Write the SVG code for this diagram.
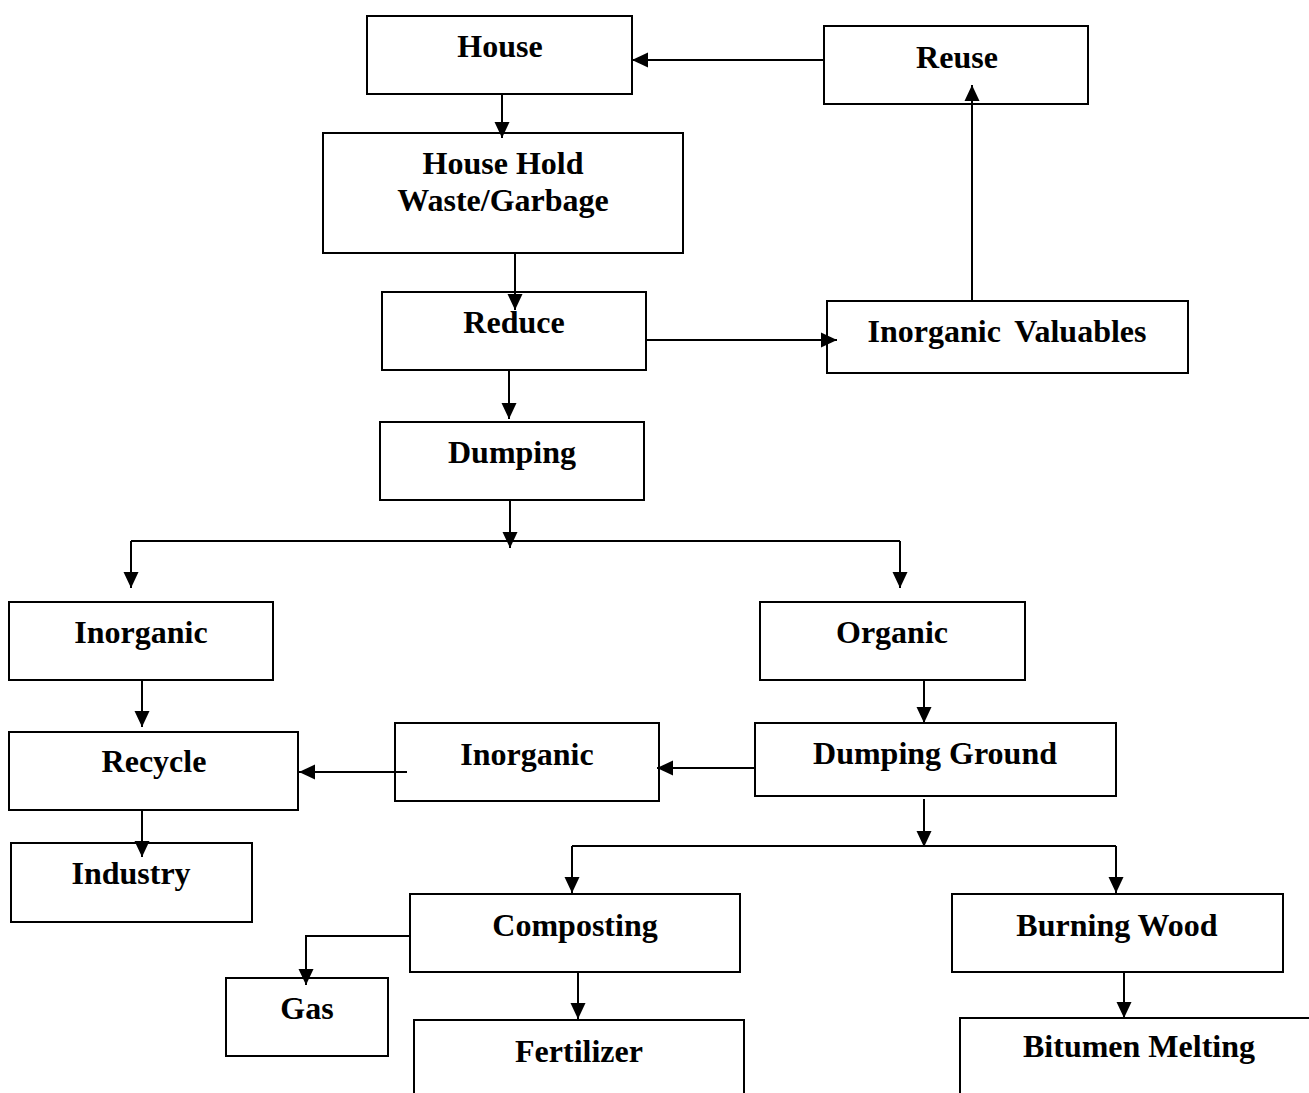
<svg xmlns="http://www.w3.org/2000/svg" width="1309" height="1093" viewBox="0 0 1309 1093">
<style>
.box{fill:#fff;stroke:#000;stroke-width:2}
.lbl{font-family:"Liberation Serif","Times New Roman",serif;font-weight:bold;font-size:32px;text-anchor:middle;fill:#000}
.c{fill:none;stroke:#000;stroke-width:2}
</style>
<defs>
<marker id="ah" markerUnits="userSpaceOnUse" markerWidth="18" markerHeight="18" refX="16" refY="7.5" orient="auto" overflow="visible">
<path d="M0,0 L16,7.5 L0,15 z" fill="#000"/>
</marker>
</defs>
<rect width="1309" height="1093" fill="#fff"/>
<g id="nodes">
<g id="house"><rect class="box" x="367" y="16" width="265" height="78"/><text class="lbl" x="500" y="57">House</text></g>
<g id="reuse"><rect class="box" x="824" y="26" width="264" height="78"/><text class="lbl" x="957" y="68">Reuse</text></g>
<g id="hhw"><rect class="box" x="323" y="133" width="360" height="120"/><text class="lbl" x="503" y="174">House Hold</text><text class="lbl" x="503" y="211">Waste/Garbage</text></g>
<g id="reduce"><rect class="box" x="382" y="292" width="264" height="78"/><text class="lbl" x="514" y="333">Reduce</text></g>
<g id="valuables"><rect class="box" x="827" y="301" width="361" height="72"/><text class="lbl" x="1007" y="342" word-spacing="6">Inorganic Valuables</text></g>
<g id="dumping"><rect class="box" x="380" y="422" width="264" height="78"/><text class="lbl" x="512" y="463">Dumping</text></g>
<g id="inorganic1"><rect class="box" x="9" y="602" width="264" height="78"/><text class="lbl" x="141" y="643">Inorganic</text></g>
<g id="organic"><rect class="box" x="760" y="602" width="265" height="78"/><text class="lbl" x="892" y="643">Organic</text></g>
<g id="recycle"><rect class="box" x="9" y="732" width="289" height="78"/><text class="lbl" x="154" y="772">Recycle</text></g>
<g id="inorganic2"><rect class="box" x="395" y="723" width="264" height="78"/><text class="lbl" x="527" y="765">Inorganic</text></g>
<g id="dumpingground"><rect class="box" x="755" y="723" width="361" height="73"/><text class="lbl" x="935" y="764">Dumping Ground</text></g>
<g id="industry"><rect class="box" x="11" y="843" width="241" height="79"/><text class="lbl" x="131" y="884">Industry</text></g>
<g id="composting"><rect class="box" x="410" y="894" width="330" height="78"/><text class="lbl" x="575" y="936">Composting</text></g>
<g id="burningwood"><rect class="box" x="952" y="894" width="331" height="78"/><text class="lbl" x="1117" y="936">Burning Wood</text></g>
<g id="gas"><rect class="box" x="226" y="978" width="162" height="78"/><text class="lbl" x="307" y="1019">Gas</text></g>
<g id="fertilizer"><rect class="box" x="414" y="1020" width="330" height="120"/><text class="lbl" x="579" y="1062">Fertilizer</text></g>
<g id="bitumen"><rect class="box" x="960" y="1018" width="400" height="120"/><text class="lbl" x="1139" y="1057">Bitumen Melting</text></g>
</g>
<g id="connectors">
<line class="c" x1="824" y1="60" x2="632" y2="60" marker-end="url(#ah)"/>
<line class="c" x1="502" y1="94" x2="502" y2="138" marker-end="url(#ah)"/>
<line class="c" x1="515" y1="253" x2="515" y2="310" marker-end="url(#ah)"/>
<line class="c" x1="647" y1="340" x2="837" y2="340" marker-end="url(#ah)"/>
<line class="c" x1="972" y1="301" x2="972" y2="85" marker-end="url(#ah)"/>
<line class="c" x1="509" y1="370" x2="509" y2="419" marker-end="url(#ah)"/>
<line class="c" x1="510" y1="500" x2="510" y2="548" marker-end="url(#ah)"/>
<line class="c" x1="131" y1="541" x2="900" y2="541"/>
<line class="c" x1="131" y1="541" x2="131" y2="588" marker-end="url(#ah)"/>
<line class="c" x1="900" y1="541" x2="900" y2="588" marker-end="url(#ah)"/>
<line class="c" x1="142" y1="680" x2="142" y2="727" marker-end="url(#ah)"/>
<line class="c" x1="142" y1="810" x2="142" y2="857" marker-end="url(#ah)"/>
<line class="c" x1="407" y1="772" x2="299" y2="772" marker-end="url(#ah)"/>
<line class="c" x1="755" y1="768" x2="657" y2="768" marker-end="url(#ah)"/>
<line class="c" x1="924" y1="680" x2="924" y2="723" marker-end="url(#ah)"/>
<line class="c" x1="924" y1="799" x2="924" y2="847" marker-end="url(#ah)"/>
<line class="c" x1="572" y1="846" x2="1116" y2="846"/>
<line class="c" x1="572" y1="846" x2="572" y2="893" marker-end="url(#ah)"/>
<line class="c" x1="1116" y1="846" x2="1116" y2="893" marker-end="url(#ah)"/>
<line class="c" x1="578" y1="972" x2="578" y2="1019" marker-end="url(#ah)"/>
<polyline class="c" points="410,936 306,936 306,985" marker-end="url(#ah)"/>
<line class="c" x1="1124" y1="972" x2="1124" y2="1018" marker-end="url(#ah)"/>
</g>
</svg>
